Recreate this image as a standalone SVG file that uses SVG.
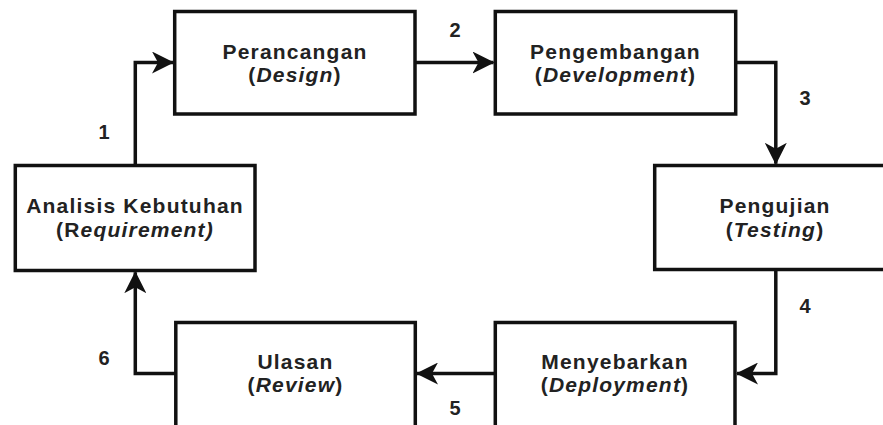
<svg xmlns="http://www.w3.org/2000/svg" width="883" height="425" viewBox="0 0 883 425">
<style>
.box{fill:#fff;stroke:#111;stroke-width:3.5}
.con{fill:none;stroke:#111;stroke-width:3.5}
.t{font-family:"Liberation Sans",Arial,sans-serif;font-size:21px;font-weight:bold;letter-spacing:1.2px;fill:#222;text-anchor:middle}
.i{font-style:italic}
.n{font-family:"Liberation Sans",Arial,sans-serif;font-size:20px;font-weight:bold;fill:#222;text-anchor:middle}
</style>
<defs>
<marker id="arr" viewBox="0 0 22 22" refX="21" refY="11" markerWidth="22" markerHeight="22" markerUnits="userSpaceOnUse" orient="auto">
<path d="M0,0 L22,11 L0,22 L6,11 Z" fill="#111"/>
</marker>
</defs>
<rect width="883" height="425" fill="#fff"/>
<g id="connectors">
<path class="con" d="M135.3,165.5 V62.5 H173" marker-end="url(#arr)"/>
<path class="con" d="M415,62.5 H493.5" marker-end="url(#arr)"/>
<path class="con" d="M735.7,62.5 H775.8 V163.8" marker-end="url(#arr)"/>
<path class="con" d="M775.8,269.5 V373.5 H737" marker-end="url(#arr)"/>
<path class="con" d="M495.3,373.5 H417" marker-end="url(#arr)"/>
<path class="con" d="M175.8,373.5 H135.3 V272.2" marker-end="url(#arr)"/>
<text class="n" x="104" y="138.5">1</text>
<text class="n" x="455" y="37">2</text>
<text class="n" x="805" y="105">3</text>
<text class="n" x="805" y="312.5">4</text>
<text class="n" x="455" y="415">5</text>
<text class="n" x="104" y="365">6</text>
</g>
<g id="design">
<rect class="box" x="174.7" y="11.5" width="240.3" height="102.5"/>
<text class="t" x="295" y="58.5">Perancangan</text>
<text class="t" x="295" y="82">(<tspan class="i">Design</tspan>)</text>
</g>
<g id="development">
<rect class="box" x="495.3" y="11.5" width="240.4" height="102.5"/>
<text class="t" x="615.5" y="58.5">Pengembangan</text>
<text class="t" x="615.5" y="82">(<tspan class="i">Development</tspan>)</text>
</g>
<g id="testing">
<rect class="box" x="654.7" y="165.5" width="240.3" height="104"/>
<text class="t" x="775" y="213">Pengujian</text>
<text class="t" x="775" y="236.5">(<tspan class="i">Testing</tspan>)</text>
</g>
<g id="requirement">
<rect class="box" x="15.3" y="165.5" width="239.7" height="105"/>
<text class="t" x="135" y="213">Analisis Kebutuhan</text>
<text class="t" x="135" y="236.5">(R<tspan class="i">equirement)</tspan></text>
</g>
<g id="review">
<rect class="box" x="175.8" y="322.5" width="239.5" height="110"/>
<text class="t" x="295.5" y="368.5">Ulasan</text>
<text class="t" x="295.5" y="392">(<tspan class="i">Review</tspan>)</text>
</g>
<g id="deployment">
<rect class="box" x="495.3" y="322.5" width="239.7" height="110"/>
<text class="t" x="615" y="368.5">Menyebarkan</text>
<text class="t" x="615" y="392">(<tspan class="i">Deployment</tspan>)</text>
</g>
</svg>
